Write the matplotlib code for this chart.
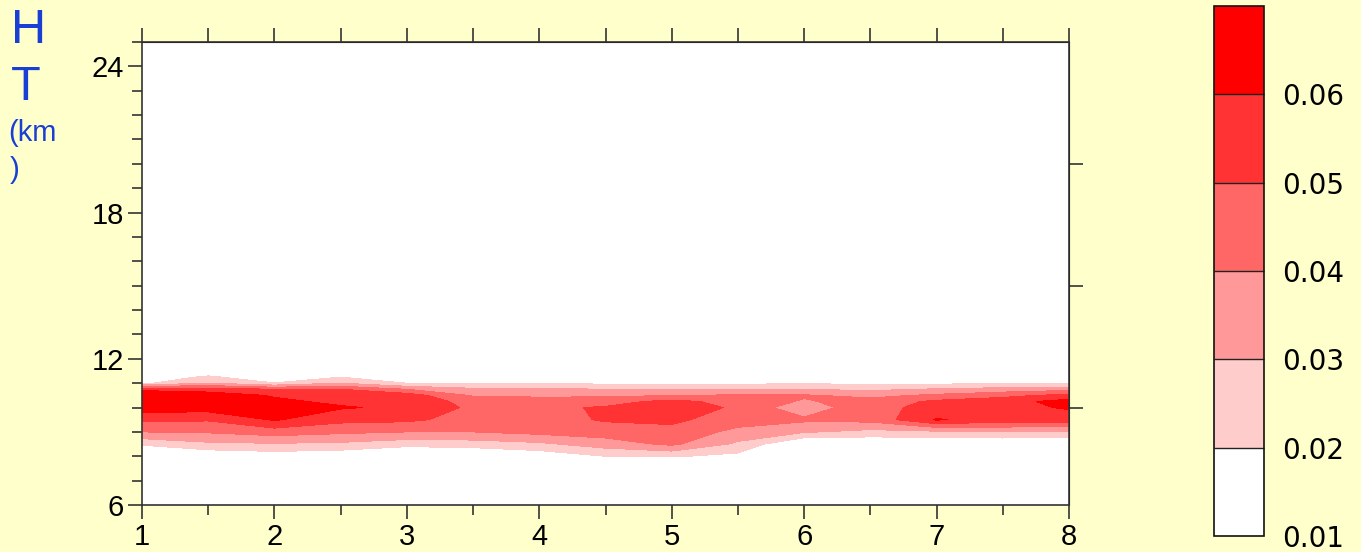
import matplotlib
matplotlib.use("Agg")
import matplotlib.pyplot as plt
import numpy as np
from matplotlib.ticker import MultipleLocator, FixedLocator

# distance along the section and heights (km)
x_pos = [1, 1.5, 2, 2.5, 3, 3.5, 4, 4.5, 5, 5.5, 6, 6.5, 7, 7.5, 8]
heights = [6, 7.5, 8.0, 8.5, 9.0, 9.5, 10.0, 10.25, 10.5, 10.75, 11.0, 11.25, 11.5, 25]

# values, one row per height
h6_0 = [0.0] * 15
h7_5 = [0.0] * 15
h8_0 = [0.0, 0.011, 0.014, 0.012, 0.005, 0.008, 0.013, 0.020, 0.021, 0.017, 0.0, 0.0, 0.0, 0.0, 0.0]
h8_5 = [0.022, 0.028, 0.029, 0.028, 0.024, 0.025, 0.028, 0.035, 0.042, 0.028, 0.008, 0.010, 0.010, 0.010, 0.008]
h9_0 = [0.040, 0.041, 0.045, 0.042, 0.040, 0.040, 0.043, 0.045, 0.047, 0.037, 0.031, 0.027, 0.028, 0.030, 0.029]
h9_5 = [0.052, 0.051, 0.061, 0.053, 0.052, 0.046, 0.046, 0.051, 0.052, 0.045, 0.042, 0.043, 0.061, 0.055, 0.055]
h10_0 = [0.065, 0.065, 0.066, 0.061, 0.058, 0.048, 0.048, 0.051, 0.057, 0.048, 0.033, 0.048, 0.052, 0.057, 0.061]
h10_25 = [0.068, 0.068, 0.062, 0.058, 0.057, 0.046, 0.045, 0.046, 0.053, 0.046, 0.039, 0.044, 0.052, 0.056, 0.064]
h10_5 = [0.067, 0.066, 0.059, 0.055, 0.055, 0.039, 0.038, 0.038, 0.040, 0.041, 0.041, 0.037, 0.042, 0.047, 0.053]
h10_75 = [0.058, 0.055, 0.050, 0.050, 0.040, 0.032, 0.032, 0.030, 0.030, 0.030, 0.030, 0.028, 0.031, 0.034, 0.037]
h11_0 = [0.018, 0.030, 0.021, 0.030, 0.020, 0.020, 0.020, 0.018, 0.018, 0.018, 0.019, 0.018, 0.018, 0.019, 0.018]
h11_25 = [0.0, 0.025, 0.0, 0.020, 0.0, 0.0, 0.0, 0.0, 0.0, 0.0, 0.0, 0.0, 0.0, 0.0, 0.0]
h11_5 = [0.0] * 15
h25_0 = [0.0] * 15

levels = [0.01, 0.02, 0.03, 0.04, 0.05, 0.06, 0.07]
cb_ticks = [0.01, 0.02, 0.03, 0.04, 0.05, 0.06]
shades = ['#FFFFFF', '#FFCCCC', '#FF9999', '#FF6666', '#FF3333', '#FF0000']

Z = np.array([h6_0, h7_5, h8_0, h8_5, h9_0, h9_5, h10_0, h10_25, h10_5,
              h10_75, h11_0, h11_25, h11_5, h25_0])

bg = '#FFFFCC'
fig = plt.figure(figsize=(13.61, 5.52), dpi=100, facecolor=bg)
ax = fig.add_axes([0.1043, 0.0851, 0.6812, 0.8388])
ax.set_facecolor('white')

cf = ax.contourf(x_pos, heights, Z, levels=levels, colors=shades)

ax.set_xlim(1, 8)
ax.set_ylim(6, 25)

ax.xaxis.set_major_locator(MultipleLocator(1))
ax.xaxis.set_minor_locator(MultipleLocator(0.5))
ax.yaxis.set_major_locator(FixedLocator([6, 12, 18, 24]))
ax.yaxis.set_minor_locator(MultipleLocator(1))
ax.tick_params(axis='both', which='major', direction='out', length=10, width=1.2,
               pad=3, labelsize=21, color='#333333')
ax.tick_params(axis='both', which='minor', direction='out', length=7, width=1.2,
               color='#333333')
for lab in ax.get_xticklabels() + ax.get_yticklabels():
    lab.set_family('Liberation Sans')

for s in ax.spines.values():
    s.set_linewidth(1.2)
    s.set_color('#333333')

# top ticks every half unit, right ticks at 10/15/20
top = ax.secondary_xaxis('top')
top.xaxis.set_major_locator(MultipleLocator(0.5))
top.tick_params(direction='out', length=10, width=1.2, color='#333333')
top.set_xticklabels([])
right = ax.secondary_yaxis('right')
right.yaxis.set_major_locator(FixedLocator([10, 15, 20]))
right.tick_params(direction='out', length=10, width=1.2, color='#333333')
right.set_yticklabels([])

# colorbar
cax = fig.add_axes([0.892, 0.029, 0.0367, 0.960])
cb = fig.colorbar(cf, cax=cax, ticks=cb_ticks, drawedges=True)
cb.outline.set_linewidth(1.2)
cb.outline.set_edgecolor('#111111')
cb.dividers.set_color('#222222')
cb.dividers.set_linewidth(1.0)
cax.tick_params(length=0, pad=13, labelsize=20)
cax.set_yticklabels(['0.01', '0.02', '0.03', '0.04', '0.05', '0.06'])
for lab in cax.get_yticklabels():
    lab.set_family('DejaVu Sans')

# vertical axis title
blue = '#1a3fd4'
fig.text(0.008, 0.985, 'H', color=blue, fontsize=35, family='Liberation Sans', va='top')
fig.text(0.008, 0.882, 'T', color=blue, fontsize=35, family='Liberation Sans', va='top')
fig.text(0.006, 0.785, '(km', color=blue, fontsize=21, family='Liberation Sans', va='top')
fig.text(0.007, 0.718, ')', color=blue, fontsize=21, family='Liberation Sans', va='top')

fig.savefig('out.png', dpi=100, facecolor=bg)
